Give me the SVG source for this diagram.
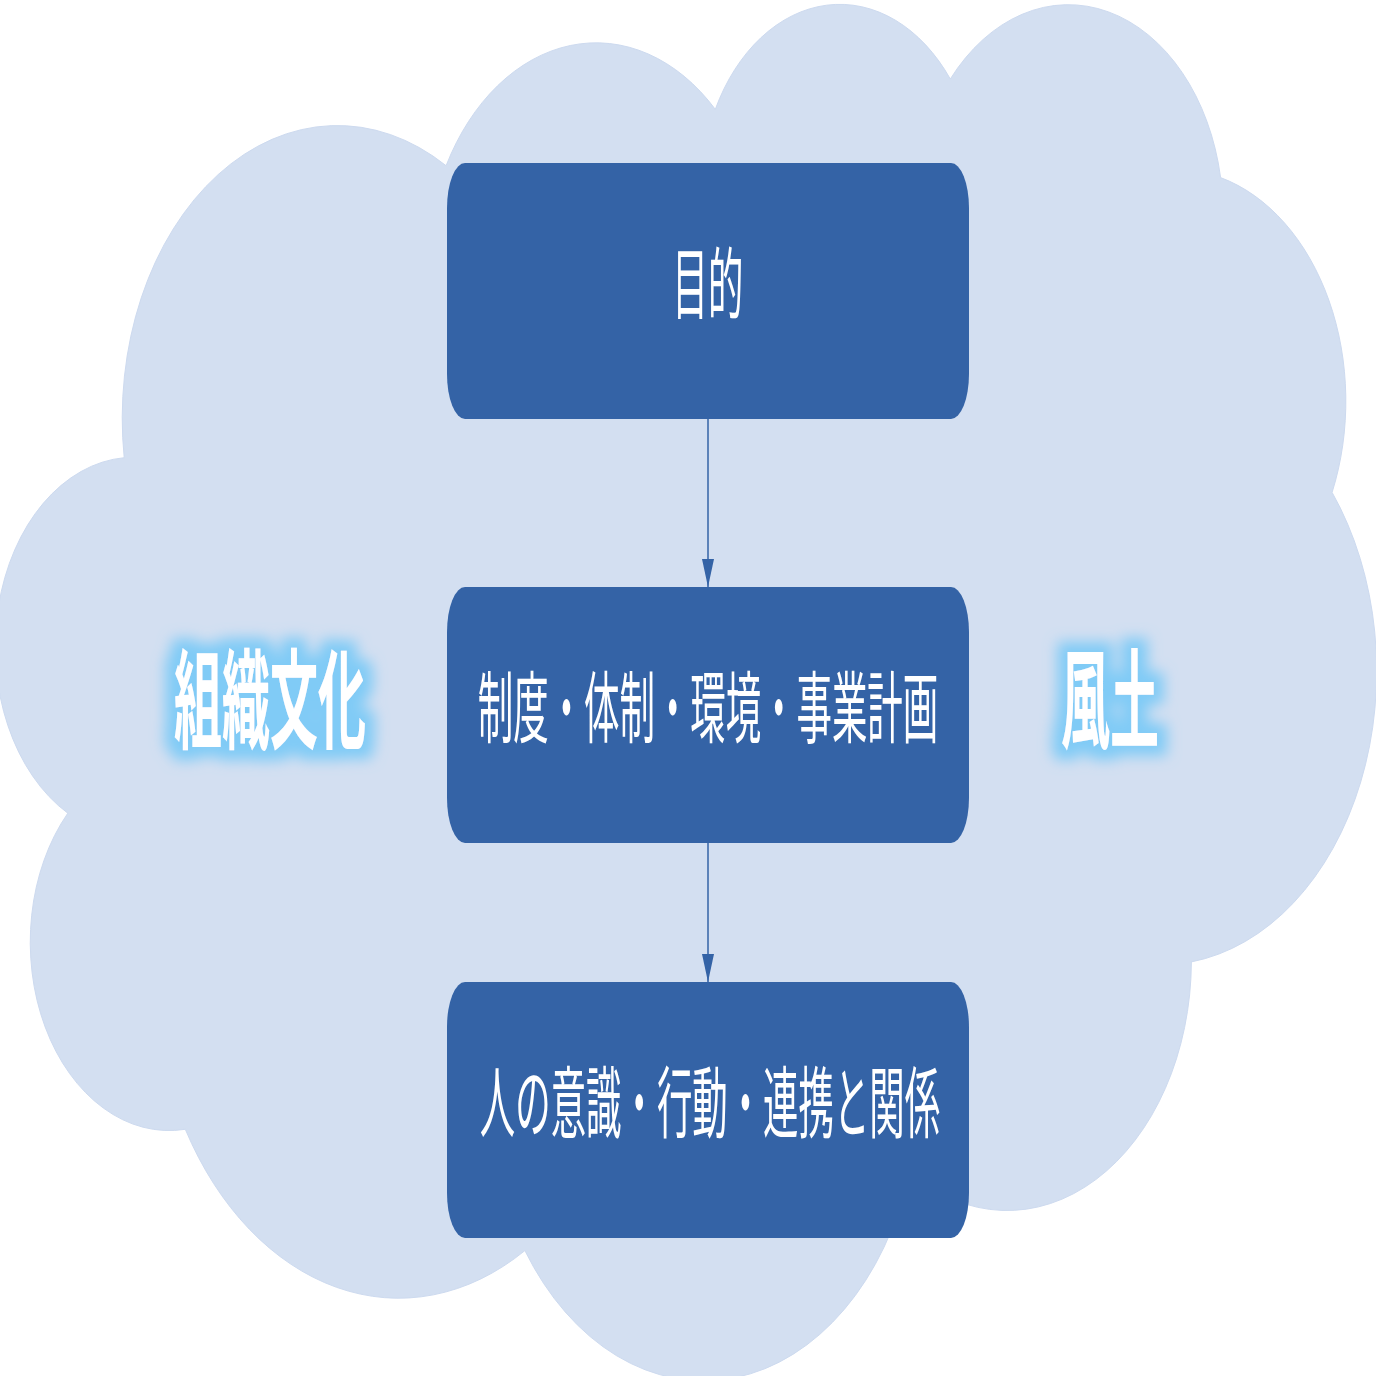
<svg xmlns="http://www.w3.org/2000/svg" width="1376" height="1376" viewBox="0 0 1376 1376">
  <defs>
    <style>
      .cloud { fill: #D3DFF1; stroke: #CDDAEF; stroke-width: 1; }
      .box { fill: #3463A6; }
      .box-text { fill: #FFFFFF; font-family: "Noto Sans CJK JP", "Noto Sans", sans-serif; font-size: 78px; font-weight: 400; }
      .label { fill: #FFFFFF; font-family: "Noto Sans CJK JP", "Noto Sans", sans-serif; font-size: 108px; font-weight: 700; }
      .conn { stroke: #3463A6; stroke-width: 1.5; fill: none; }
    </style>
    <marker id="arrow" markerUnits="userSpaceOnUse" markerWidth="28" markerHeight="12" viewBox="0 0 28 12" refX="28" refY="6" orient="auto">
      <path d="M0,0 L28,6 L0,12 Z" fill="#3463A6"/>
    </marker>
    <filter id="glow" x="-25%" y="-40%" width="150%" height="180%">
      <feMorphology in="SourceAlpha" operator="dilate" radius="10" result="d"/>
      <feGaussianBlur in="d" stdDeviation="7" result="b"/>
      <feFlood flood-color="#80CBF6" result="c"/>
      <feComposite in="c" in2="b" operator="in" result="g"/>
      <feMerge>
        <feMergeNode in="g"/>
        <feMergeNode in="SourceGraphic"/>
      </feMerge>
    </filter>
  </defs>

  <g id="cloud">
    <path class="cloud" d="M124.2,457.7
      A215.1,292.7 0 0 1 446.1,165.7
      A169.9,231.5 0 0 1 715.3,109.3
      A139.0,189.4 0 0 1 950.3,79.0
      A154.7,210.1 0 0 1 1220.6,177.6
      A169.9,231.7 0 0 1 1332.1,492.4
      A215.8,293.7 0 0 1 1191.4,961.9
      A184.3,250.6 0 0 1 909.5,1172.5
      A215.1,293.5 0 0 1 524.9,1250.6
      A245.9,335.8 0 0 1 185.3,1129.3
      A138.9,188.5 0 0 1 67.8,813.2
      A138.4,189.4 0 0 1 124.2,457.7 Z"/>
  </g>

  <g id="connectors">
    <line class="conn" x1="708" y1="419" x2="708" y2="587" marker-end="url(#arrow)"/>
    <line class="conn" x1="708" y1="843" x2="708" y2="982" marker-end="url(#arrow)"/>
  </g>

  <g id="node-purpose">
    <rect class="box" x="447" y="163" width="522" height="256" rx="18" ry="45"/>
    <text class="box-text" transform="translate(708,313) scale(0.454,1)" x="0" y="0" text-anchor="middle">目的</text>
  </g>

  <g id="node-system">
    <rect class="box" x="447" y="587" width="522" height="256" rx="18" ry="45"/>
    <text class="box-text" transform="translate(708,737) scale(0.454,1)" x="0" y="0" text-anchor="middle">制度・体制・環境・事業計画</text>
  </g>

  <g id="node-people">
    <rect class="box" x="447" y="982" width="522" height="256" rx="18" ry="45"/>
    <text class="box-text" transform="translate(710,1132) scale(0.454,1)" x="0" y="0" text-anchor="middle">人の意識・行動・連携と関係</text>
  </g>

  <g id="label-culture" filter="url(#glow)">
    <text class="label" transform="translate(270,740) scale(0.444,1)" x="0" y="0" text-anchor="middle">組織文化</text>
  </g>

  <g id="label-climate" filter="url(#glow)">
    <text class="label" transform="translate(1110,740) scale(0.454,1)" x="0" y="0" text-anchor="middle">風土</text>
  </g>
</svg>
